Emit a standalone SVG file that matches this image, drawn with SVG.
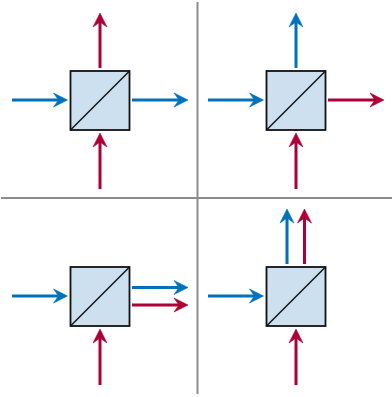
<svg xmlns="http://www.w3.org/2000/svg" width="392" height="397" viewBox="0 0 392 397">
<style>
.box{fill:#cde0ef;stroke:#111;stroke-width:1.8}
.split{fill:none;stroke:#111;stroke-width:1.5}
.sep{fill:none;stroke:#8c8c8c;stroke-width:2}
.b{fill:none;stroke:#0072bc;stroke-width:3}
.r{fill:none;stroke:#ad0036;stroke-width:3}
.bh{fill:#0072bc;stroke:#0072bc;stroke-width:.6}
.rh{fill:#ad0036;stroke:#ad0036;stroke-width:.6}
</style>
<defs>
<path id="hr" d="M0 0L-14 -7L-9 0L-14 7Z"/>
<g id="cube"><rect class="box" x="70.5" y="71" width="59" height="59"/><path class="split" d="M70.5 130L129.5 71"/></g>
</defs>
<rect width="392" height="397" fill="#fff"/>
<g id="separators"><path class="sep" d="M197.5 2V394M1 198H392"/></g>
<g id="node-tl"><use href="#cube"/></g>
<g id="node-tr"><use href="#cube" x="196"/></g>
<g id="node-bl"><use href="#cube" y="196"/></g>
<g id="node-br"><use href="#cube" x="196" y="196"/></g>
<g id="connectors">
<path class="b" d="M12 100H60M132 100H180M208 100H256M12 296H60M132 287.5H180M208 296H256M296 68V22M287 264V218"/>
<path class="r" d="M100 189V141M100 68V22M296 189V141M328 100H376M100 385V337M132 305H180M296 385V337M304.5 264V218"/>
<use href="#hr" class="bh" transform="translate(67.5 100)"/>
<use href="#hr" class="bh" transform="translate(188 100)"/>
<use href="#hr" class="bh" transform="translate(263.5 100)"/>
<use href="#hr" class="bh" transform="translate(67.5 296)"/>
<use href="#hr" class="bh" transform="translate(188 287.5)"/>
<use href="#hr" class="bh" transform="translate(263.5 296)"/>
<use href="#hr" class="bh" transform="translate(296 13) rotate(-90)"/>
<use href="#hr" class="bh" transform="translate(287 209) rotate(-90)"/>
<use href="#hr" class="rh" transform="translate(100 133) rotate(-90)"/>
<use href="#hr" class="rh" transform="translate(100 13) rotate(-90)"/>
<use href="#hr" class="rh" transform="translate(296 133) rotate(-90)"/>
<use href="#hr" class="rh" transform="translate(384 100)"/>
<use href="#hr" class="rh" transform="translate(100 329) rotate(-90)"/>
<use href="#hr" class="rh" transform="translate(188 305)"/>
<use href="#hr" class="rh" transform="translate(296 329) rotate(-90)"/>
<use href="#hr" class="rh" transform="translate(304.5 209) rotate(-90)"/>
</g>
</svg>
